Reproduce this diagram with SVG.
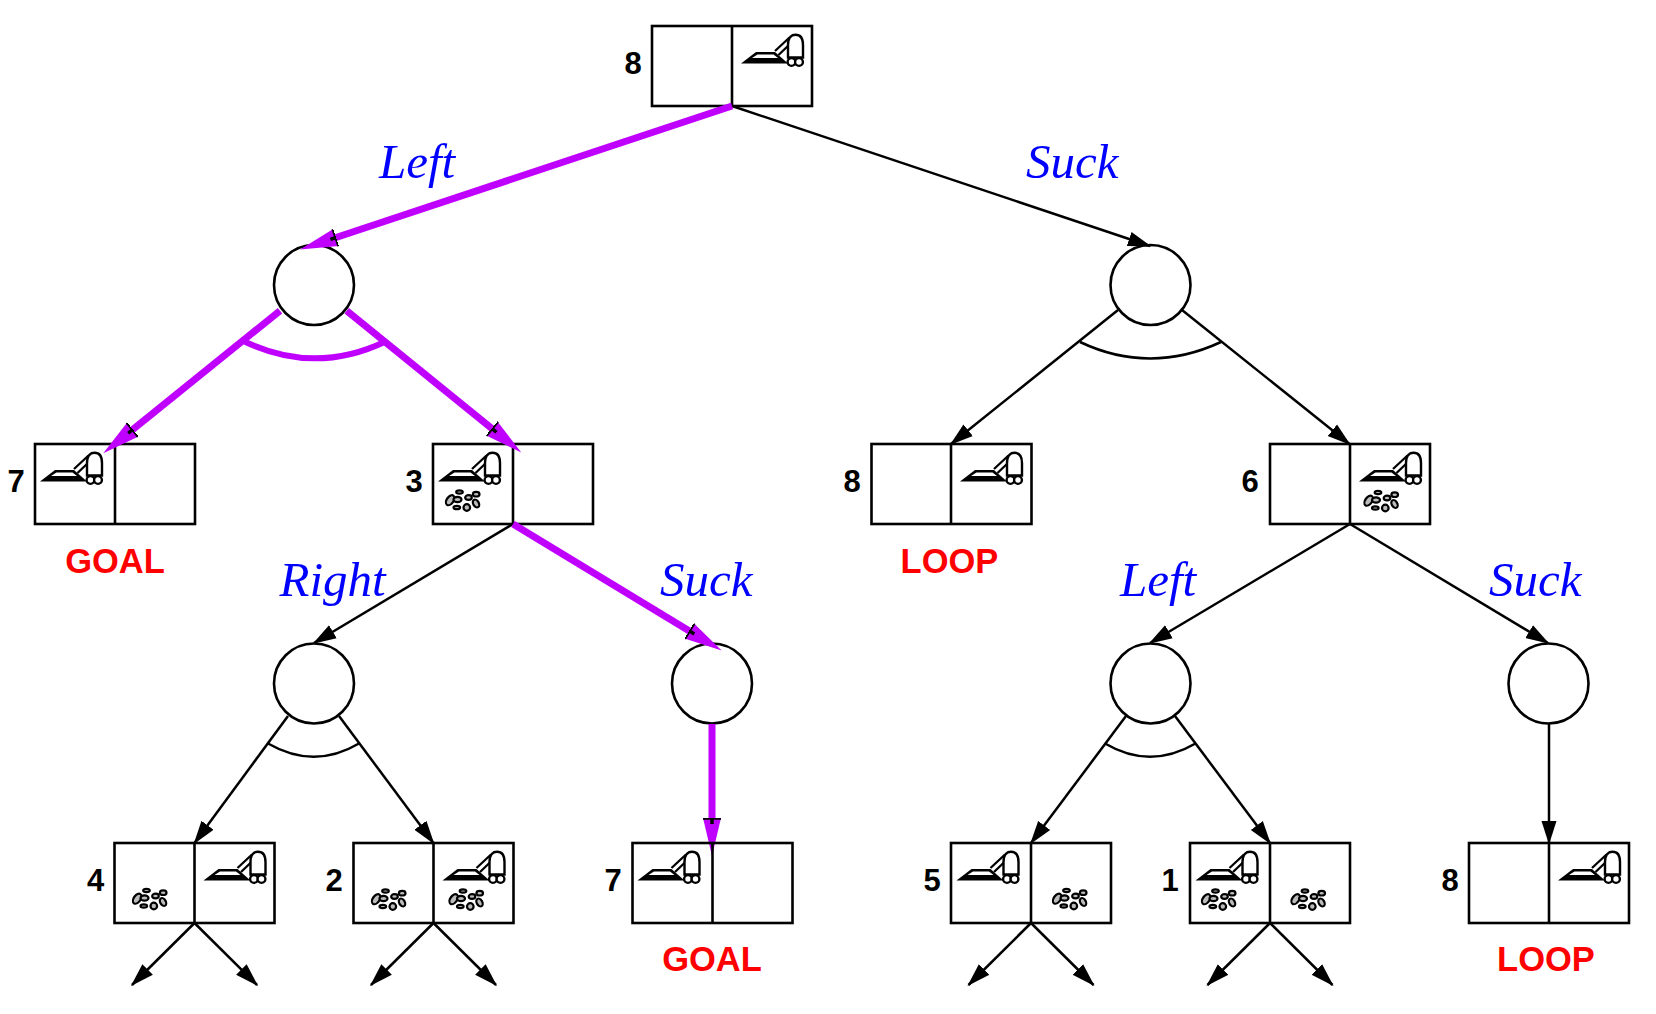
<svg xmlns="http://www.w3.org/2000/svg" width="1656" height="1014" viewBox="0 0 1656 1014">
<style>
.cell{fill:none;stroke:#000;stroke-width:2.6}
.or{fill:#fff;stroke:#000;stroke-width:2.6}
.num{font:bold 31px "Liberation Sans",Arial,sans-serif;fill:#000;text-anchor:middle}
.st{font:bold 34.500px "Liberation Sans",Arial,sans-serif;fill:#f00;text-anchor:middle}
.act{font:italic 49px "Liberation Serif","Times New Roman",serif;fill:#00f}
.k{fill:none;stroke:#000;stroke-width:2.500}
.ka{marker-end:url(#ah)}
.p{fill:none;stroke:#bf00ff;stroke-width:7}
.pa{marker-end:url(#ph)}
.d ellipse{fill:#bbb;stroke:#000;stroke-width:2.200}
</style>
<defs>
<marker id="ah" markerUnits="userSpaceOnUse" markerWidth="30" markerHeight="20" refX="22" refY="10" orient="auto"><path d="M0 2.500 L23.500 10 L0 17.500 Z" fill="#000"/></marker>
<marker id="ph" markerUnits="userSpaceOnUse" markerWidth="44" markerHeight="24" refX="8" refY="12" orient="auto"><path d="M0 3 L38 12 L0 21 Z" fill="#bf00ff"/><path d="M0 3 V21 M0 12 H6" stroke="#000" stroke-width="3.500" fill="none"/></marker>
<g id="vac">
<path d="M9 37.500 L24 26 H43 L56 37.500 Z" fill="#000"/>
<path d="M20 32 L25.500 28.500 H41.500 L46 32 Z" fill="#fff"/>
<path d="M43 25 L57.500 11.500 M46.500 29 L58 18" stroke="#000" stroke-width="2.300" fill="none"/>
<path d="M56 31.500 V19 C56 11 60 8.800 63.500 8.800 C67 8.800 71 11 71 19 V31.500 Z" fill="#fff" stroke="#000" stroke-width="2.400"/>
<circle cx="59.500" cy="36" r="3.900" fill="#fff" stroke="#000" stroke-width="2.400"/>
<circle cx="67" cy="36" r="3.900" fill="#fff" stroke="#000" stroke-width="2.400"/>
</g>
<g id="dirt" class="d">
<ellipse cx="-13.300" cy="0.700" rx="3.400" ry="5.600" transform="rotate(35 -13.300 0.700)"/>
<ellipse cx="-4" cy="-7.500" rx="3.300" ry="1.700"/>
<ellipse cx="-6" cy="0" rx="4" ry="2.700"/>
<ellipse cx="5" cy="-2" rx="3.300" ry="2.300"/>
<ellipse cx="12.700" cy="-5.300" rx="3.300" ry="2.300"/>
<ellipse cx="12.500" cy="4" rx="2.800" ry="4.200" transform="rotate(-30 12.500 4)"/>
<ellipse cx="3.300" cy="8" rx="3.300" ry="3.300"/>
<ellipse cx="-6.700" cy="8" rx="3.300" ry="1.700"/>
</g>
</defs>
<rect width="1656" height="1014" fill="#fff"/>

<g id="or1"><circle class="or" cx="314" cy="285" r="40"/></g>
<g id="or2"><circle class="or" cx="1150.500" cy="285" r="40"/></g>
<g id="or3"><circle class="or" cx="314" cy="683.500" r="40"/></g>
<g id="or4"><circle class="or" cx="712" cy="683.500" r="40"/></g>
<g id="or5"><circle class="or" cx="1150.500" cy="683.500" r="40"/></g>
<g id="or6"><circle class="or" cx="1548.500" cy="683.500" r="40"/></g>

<g id="s0"><rect class="cell" x="652" y="26" width="160" height="80"/><path class="cell" d="M732 26V106"/><use href="#vac" x="732" y="26"/><text class="num" x="633" y="74">8</text></g>
<g id="s1"><rect class="cell" x="35" y="444" width="160" height="80"/><path class="cell" d="M115 444V524"/><use href="#vac" x="31" y="444"/><text class="num" x="16" y="492">7</text><text class="st" x="115" y="573">GOAL</text></g>
<g id="s2"><rect class="cell" x="433" y="444" width="160" height="80"/><path class="cell" d="M513 444V524"/><use href="#vac" x="429" y="444"/><use href="#dirt" x="463.500" y="499.500"/><text class="num" x="414" y="492">3</text></g>
<g id="s3"><rect class="cell" x="871.500" y="444" width="160" height="80"/><path class="cell" d="M951 444V524"/><use href="#vac" x="951" y="444"/><text class="num" x="852" y="492">8</text><text class="st" x="949.500" y="573">LOOP</text></g>
<g id="s4"><rect class="cell" x="1270" y="444" width="160" height="80"/><path class="cell" d="M1350 444V524"/><use href="#vac" x="1350" y="444"/><use href="#dirt" x="1382" y="500"/><text class="num" x="1250" y="492">6</text></g>
<g id="s5"><rect class="cell" x="114.500" y="843" width="160" height="80"/><path class="cell" d="M194.500 843V923"/><use href="#vac" x="194.500" y="843"/><use href="#dirt" x="150.500" y="898"/><text class="num" x="95.500" y="891">4</text></g>
<g id="s6"><rect class="cell" x="353.500" y="843" width="160" height="80"/><path class="cell" d="M433.500 843V923"/><use href="#vac" x="433.500" y="843"/><use href="#dirt" x="389.500" y="898.500"/><use href="#dirt" x="467" y="898.500"/><text class="num" x="334" y="891">2</text></g>
<g id="s8"><rect class="cell" x="951" y="843" width="160" height="80"/><path class="cell" d="M1031 843V923"/><use href="#vac" x="947.500" y="843"/><use href="#dirt" x="1070.500" y="898"/><text class="num" x="932" y="891">5</text></g>
<g id="s9"><rect class="cell" x="1190" y="843" width="160" height="80"/><path class="cell" d="M1270 843V923"/><use href="#vac" x="1186.500" y="843"/><use href="#dirt" x="1219.500" y="898.500"/><use href="#dirt" x="1309" y="898.500"/><text class="num" x="1170" y="891">1</text></g>
<g id="s10"><rect class="cell" x="1469" y="843" width="160" height="80"/><path class="cell" d="M1549 843V923"/><use href="#vac" x="1549" y="843"/><text class="num" x="1450" y="891">8</text><text class="st" x="1546" y="971">LOOP</text></g>

<g id="connectors">
<path class="k ka" d="M732 106L1150 246"/>
<path class="k ka" d="M1118 310L951 444"/>
<path class="k ka" d="M1182 310L1349.500 444"/>
<path class="k" d="M1080 342Q1150 375 1221 342"/>
<path class="k ka" d="M513 524L314 643"/>
<path class="k ka" d="M1350 524L1150 643"/>
<path class="k ka" d="M1350 524L1548 643"/>
<path class="k ka" d="M288 716L194.500 843"/>
<path class="k ka" d="M339 716L433.500 843"/>
<path class="k" d="M268 743.500Q314 770 359 743.500"/>
<path class="k ka" d="M1126 716L1031 843"/>
<path class="k ka" d="M1175 716L1270 843"/>
<path class="k" d="M1105 743.500Q1150 770 1195.500 743.500"/>
<path class="k ka" d="M1549 723.500V843"/>
<path class="k ka" d="M194.500 923L132 985"/><path class="k ka" d="M194.500 923L257 985"/>
<path class="k ka" d="M433.500 923L371 985"/><path class="k ka" d="M433.500 923L496 985"/>
<path class="k ka" d="M1031 923L968.500 985"/><path class="k ka" d="M1031 923L1093.500 985"/>
<path class="k ka" d="M1270 923L1207.500 985"/><path class="k ka" d="M1270 923L1332.500 985"/>
<path class="p pa" d="M732 106L328.500 240"/>
<path class="p pa" d="M280 310.700L126.600 434.500"/>
<path class="p pa" d="M346.700 310.700L498 433.500"/>
<path class="p" d="M245 341.700Q315 375 385 341.700" style="stroke-width:6"/>
<path class="p pa" d="M513 524L696 635"/>
<path class="p pa" d="M712 724V826"/>
</g>
<g id="s7"><rect class="cell" x="632.500" y="843" width="160" height="80"/><path class="cell" d="M712.500 843V923"/><use href="#vac" x="628.500" y="843"/><text class="num" x="613" y="891">7</text><text class="st" x="712" y="971">GOAL</text></g>

<g id="labels">
<text class="act" x="379" y="178">Left</text>
<text class="act" x="1026" y="178">Suck</text>
<text class="act" x="279.500" y="596">Right</text>
<text class="act" x="660" y="596">Suck</text>
<text class="act" x="1120" y="596">Left</text>
<text class="act" x="1489" y="596">Suck</text>
</g>
</svg>
